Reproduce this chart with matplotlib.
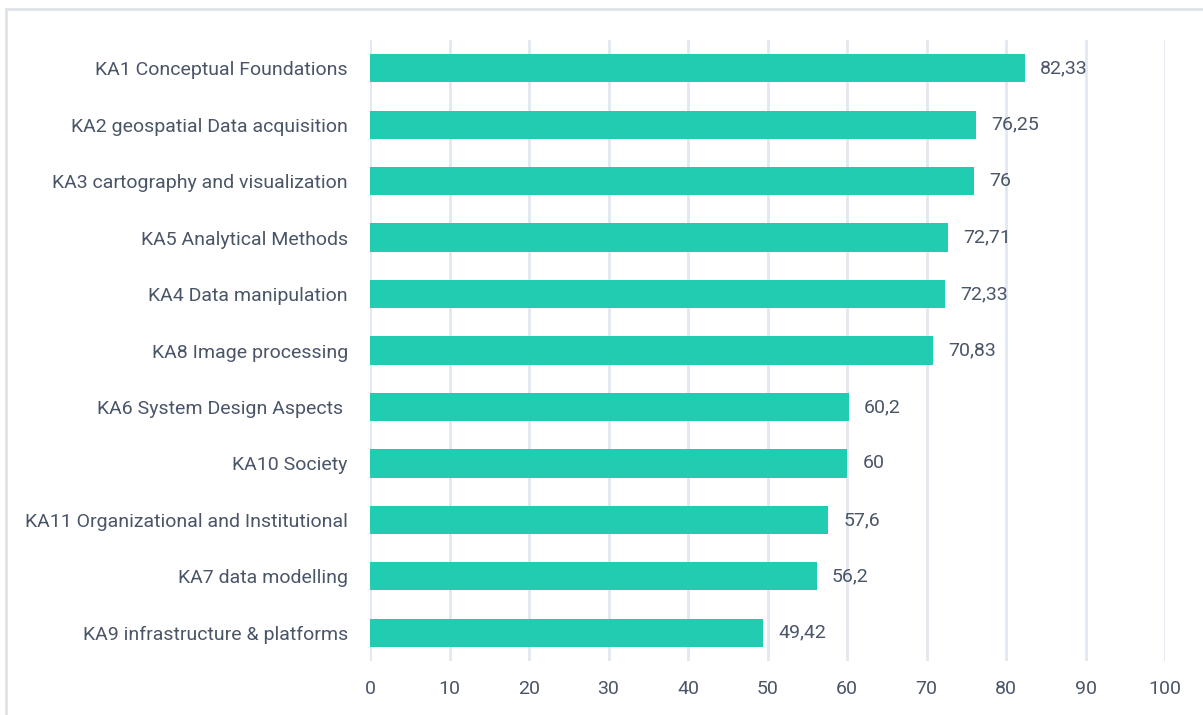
import matplotlib
matplotlib.use("Agg")
import matplotlib.pyplot as plt
from matplotlib.patches import Rectangle

categories = [
    "KA1 Conceptual Foundations",
    "KA2 geospatial Data acquisition",
    "KA3 cartography and visualization",
    "KA5 Analytical Methods",
    "KA4 Data manipulation",
    "KA8 Image processing",
    "KA6 System Design Aspects ",
    "KA10 Society",
    "KA11 Organizational and Institutional",
    "KA7 data modelling",
    "KA9 infrastructure & platforms",
]
values = [82.33, 76.25, 76, 72.71, 72.33, 70.83, 60.2, 60, 57.6, 56.2, 49.42]
value_labels = ["82,33", "76,25", "76", "72,71", "72,33", "70,83", "60,2", "60", "57,6", "56,2", "49,42"]
xticks = [0, 10, 20, 30, 40, 50, 60, 70, 80, 90, 100]

plt.rcParams['font.family'] = ['Roboto', 'DejaVu Sans']
text_color = '#4a5568'
bar_color = '#21ccb0'
grid_color = '#e2e8f0'
fs = 14

fig = plt.figure(figsize=(12.03, 7.15), dpi=100)
ax = fig.add_axes([370/1203, 1-661/715, (1165-370)/1203, (661-40)/715])

ypos = list(range(len(categories)))
ax.barh(ypos, values, height=0.5, color=bar_color, zorder=3)
for y, v, lab in zip(ypos, values, value_labels):
    ax.annotate(lab, (v, y), xytext=(11, 0), textcoords='offset points',
                va='center', ha='left', fontsize=fs, color=text_color)

ax.set_xlim(0, 100)
ax.set_ylim(len(categories) - 0.5, -0.5)
ax.set_yticks(ypos)
ax.set_yticklabels(categories, fontsize=fs, color=text_color)
ax.set_xticks(xticks)
ax.set_xticklabels([str(t) for t in xticks], fontsize=fs, color=text_color)
ax.tick_params(axis='both', length=0)
ax.tick_params(axis='y', pad=16)
ax.tick_params(axis='x', pad=14)
ax.grid(axis='x', color=grid_color, linewidth=2, zorder=0)
for s in ax.spines.values():
    s.set_visible(False)

fig.patches.append(Rectangle((6/1203, -0.1), 1.2, 1.1 - 9/715, transform=fig.transFigure,
                             fill=False, edgecolor='#dfe4ea', linewidth=2))

fig.savefig("out.png", dpi=100)
